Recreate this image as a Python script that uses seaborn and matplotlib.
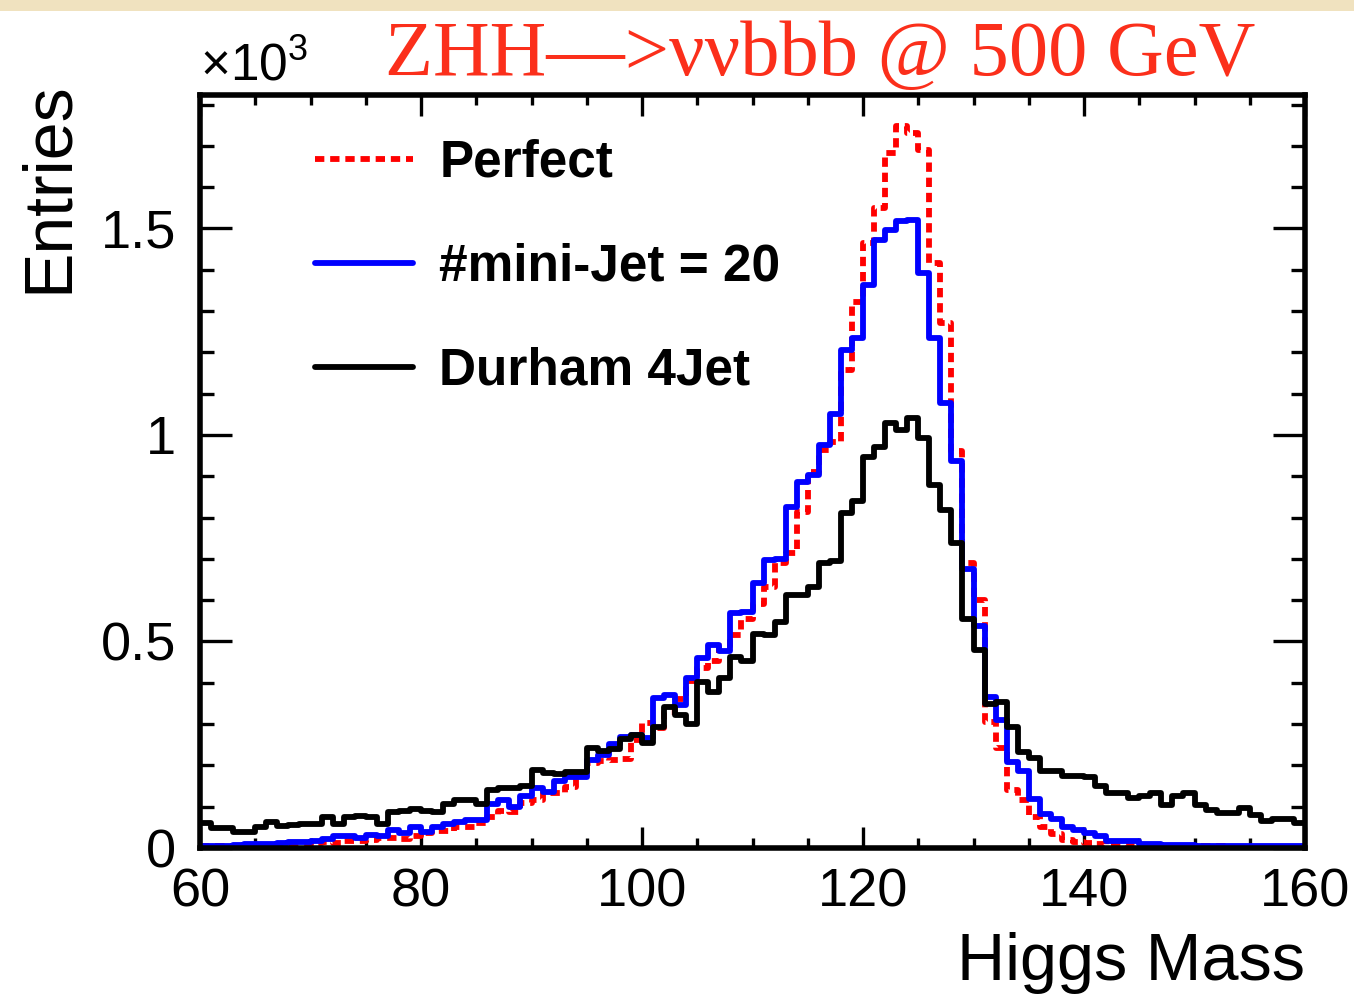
import numpy as np
import pandas as pd
import matplotlib
matplotlib.use("Agg")
import matplotlib.pyplot as plt
from matplotlib.ticker import MultipleLocator, FuncFormatter
from matplotlib.patches import Rectangle
import seaborn as sns

# ---------------- data (entries in units of 10^3, 1 GeV bins from 60 to 160) ----------------
bin_edges = list(range(60, 161))

perfect = [
    0.004, 0.004, 0.005, 0.006, 0.007, 0.008, 0.008, 0.009, 0.010, 0.010,
    0.012, 0.014, 0.012, 0.018, 0.016, 0.020, 0.024, 0.025, 0.022, 0.028,
    0.036, 0.042, 0.040, 0.050, 0.052, 0.060, 0.075, 0.090, 0.088, 0.110,
    0.117, 0.132, 0.132, 0.148, 0.181, 0.205, 0.210, 0.213, 0.215, 0.262,
    0.303, 0.290, 0.330, 0.360, 0.405, 0.435, 0.452, 0.490, 0.515, 0.555,
    0.590, 0.633, 0.690, 0.713, 0.814, 0.911, 0.964, 0.984, 1.157, 1.323,
    1.464, 1.549, 1.682, 1.748, 1.730, 1.690, 1.416, 1.270, 0.960, 0.690,
    0.600, 0.305, 0.241, 0.140, 0.115, 0.076, 0.052, 0.035, 0.020, 0.015,
    0.011, 0.010, 0.008, 0.007, 0.006, 0.006, 0.005, 0.005, 0.005, 0.004,
    0.004, 0.004, 0.004, 0.003, 0.003, 0.003, 0.003, 0.003, 0.003, 0.003,
]

minijet20 = [
    0.005, 0.005, 0.006, 0.008, 0.009, 0.010, 0.010, 0.012, 0.014, 0.015,
    0.017, 0.021, 0.028, 0.029, 0.025, 0.032, 0.029, 0.044, 0.036, 0.051,
    0.039, 0.051, 0.059, 0.064, 0.068, 0.068, 0.106, 0.115, 0.100, 0.127,
    0.146, 0.136, 0.163, 0.171, 0.171, 0.213, 0.225, 0.251, 0.268, 0.274,
    0.266, 0.364, 0.370, 0.346, 0.412, 0.460, 0.492, 0.476, 0.570, 0.572,
    0.641, 0.697, 0.700, 0.826, 0.887, 0.903, 0.976, 1.050, 1.206, 1.234,
    1.363, 1.472, 1.496, 1.517, 1.520, 1.393, 1.234, 1.077, 0.938, 0.675,
    0.538, 0.366, 0.310, 0.207, 0.187, 0.118, 0.082, 0.071, 0.052, 0.044,
    0.036, 0.028, 0.018, 0.018, 0.017, 0.010, 0.009, 0.008, 0.007, 0.008,
    0.006, 0.005, 0.005, 0.005, 0.006, 0.005, 0.005, 0.004, 0.004, 0.004,
]

durham4jet = [
    0.060, 0.049, 0.049, 0.039, 0.039, 0.051, 0.064, 0.053, 0.055, 0.057,
    0.057, 0.076, 0.057, 0.076, 0.078, 0.074, 0.057, 0.088, 0.090, 0.095,
    0.090, 0.088, 0.106, 0.115, 0.117, 0.106, 0.140, 0.146, 0.146, 0.150,
    0.190, 0.182, 0.180, 0.184, 0.184, 0.243, 0.235, 0.240, 0.264, 0.274,
    0.254, 0.293, 0.341, 0.322, 0.301, 0.403, 0.378, 0.411, 0.462, 0.452,
    0.518, 0.516, 0.548, 0.613, 0.613, 0.633, 0.689, 0.695, 0.810, 0.839,
    0.946, 0.972, 1.028, 1.012, 1.040, 0.992, 0.879, 0.818, 0.738, 0.554,
    0.480, 0.348, 0.353, 0.292, 0.233, 0.217, 0.187, 0.186, 0.174, 0.174,
    0.172, 0.150, 0.132, 0.132, 0.120, 0.127, 0.133, 0.104, 0.127, 0.132,
    0.104, 0.092, 0.084, 0.084, 0.096, 0.081, 0.066, 0.071, 0.071, 0.060,
]

series_labels = ["Perfect", "#mini-Jet = 20", "Durham 4Jet"]
y_tick_values = [0, 0.5, 1, 1.5]
x_tick_values = [60, 80, 100, 120, 140, 160]

# ---------------- styling ----------------
sns.set_style("ticks")
plt.rcParams["font.family"] = ["Liberation Sans", "DejaVu Sans"]
plt.rcParams["mathtext.fontset"] = "custom"
plt.rcParams["mathtext.rm"] = "Liberation Sans"
plt.rcParams["mathtext.it"] = "Liberation Sans:italic"
for key in ["text.color", "axes.labelcolor", "xtick.color", "ytick.color",
            "xtick.labelcolor", "ytick.labelcolor", "axes.edgecolor"]:
    plt.rcParams[key] = "black"

W, H = 1354, 994
fig = plt.figure(figsize=(W / 100, H / 100), dpi=100)
fig.patch.set_facecolor("white")

# slide background strip at the top
fig.patches.append(Rectangle((0, 1 - 11 / H), 1, 11 / H, transform=fig.transFigure,
                             facecolor="#f0e2bf", edgecolor="none", zorder=0))

left, right, bottom, top = 200, 1305, 848, 95
ax = fig.add_axes([left / W, 1 - bottom / H, (right - left) / W, (bottom - top) / H])
ax.set_facecolor("white")

centers = np.array(bin_edges[:-1]) + 0.5
df = pd.DataFrame({
    "mass": np.concatenate([centers] * 3),
    "entries": np.concatenate([perfect, minijet20, durham4jet]),
    "series": np.repeat(series_labels, len(centers)),
})

styles = {
    "Perfect": dict(color="#ff0000", linestyle=(0, (1.6, 1.0))),
    "#mini-Jet = 20": dict(color="#0000ff", linestyle="-"),
    "Durham 4Jet": dict(color="#000000", linestyle="-"),
}
for lab in series_labels:
    sub = df[df["series"] == lab]
    sns.histplot(data=sub, x="mass", weights="entries", bins=bin_edges,
                 element="step", fill=False, linewidth=4.2, ax=ax,
                 label=lab, **styles[lab])

ax.set_xlim(60, 160)
ax.set_ylim(0, 1.823)

for sp in ax.spines.values():
    sp.set_visible(True)
    sp.set_linewidth(4.0)
    sp.set_color("black")

ax.xaxis.set_major_locator(MultipleLocator(20))
ax.xaxis.set_minor_locator(MultipleLocator(5))
ax.yaxis.set_major_locator(MultipleLocator(0.5))
ax.yaxis.set_minor_locator(MultipleLocator(0.1))
ax.set_xticks(x_tick_values)
ax.set_yticks(y_tick_values)
ax.yaxis.set_major_formatter(FuncFormatter(lambda v, p: "%g" % v))

ax.tick_params(axis="x", which="major", direction="in", length=15, width=2.4,
               top=True, bottom=True, labelsize=39, pad=14, colors="black")
ax.tick_params(axis="x", which="minor", direction="in", length=7.5, width=2.4,
               top=True, bottom=True, colors="black")
ax.tick_params(axis="y", which="major", direction="in", length=23, width=2.4,
               left=True, right=True, labelsize=39, pad=17, colors="black")
ax.tick_params(axis="y", which="minor", direction="in", length=10, width=2.4,
               left=True, right=True, colors="black")

ax.set_xlabel("Higgs Mass", fontsize=48, loc="right", color="black")
ax.xaxis.set_label_coords(1.0, -0.112)
ax.set_ylabel("Entries", fontsize=49, loc="top", color="black")
ax.yaxis.set_label_coords(-0.108, 1.018)

leg = ax.legend(loc="upper left", bbox_to_anchor=(0.104, 0.942), frameon=False,
                prop={"size": 37, "weight": "bold"}, handlelength=1.9,
                handletextpad=0.52, labelspacing=1.07, borderpad=0, borderaxespad=0)
for t in leg.get_texts():
    t.set_color("black")

fig.text(left / W, 1 - 80 / H, r"×10$^{3}$", fontsize=37, ha="left", va="baseline",
         color="black")
fig.text(385 / W, 1 - 75 / H, "ZHH—>ννbbb @ 500 GeV", fontsize=56.5,
         family=["Liberation Serif", "DejaVu Serif"], color="#fb2f1b",
         ha="left", va="baseline")

fig.savefig("out.png", dpi=100, facecolor="white")
